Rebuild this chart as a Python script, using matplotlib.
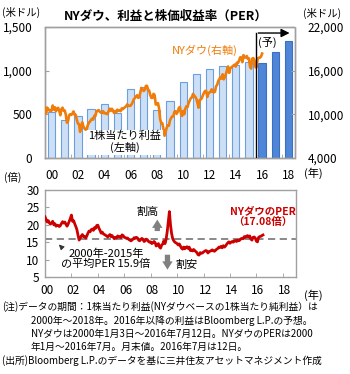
import matplotlib
matplotlib.use("Agg")
import matplotlib.pyplot as plt
import numpy as np

plt.rcParams['font.family'] = ['Noto Sans CJK JP', 'DejaVu Sans']

# ---- data ----
years = list(range(2000, 2019))
eps = [530, 440, 480, 560, 620, 515, 790, 810, 550, 650,
       870, 960, 1020, 1055, 1070, 1095, 1085, 1215, 1345]
forecast_from = 2016

# NY Dow, month-end levels Jan 2000 - Jul 2016
dow = [
    10940, 10128, 10922, 10734, 10522, 10448, 10522, 11215, 10651, 10971, 10415, 10787,
    10887, 10495, 9879, 10735, 10912, 10502, 10523, 9950, 8848, 9075, 9852, 10021,
    9920, 10106, 10404, 9946, 9925, 9243, 8737, 8664, 7592, 8397, 8896, 8342,
    8054, 7891, 7992, 8480, 8850, 8985, 9234, 9416, 9275, 9801, 9782, 10454,
    10488, 10584, 10358, 10226, 10188, 10435, 10140, 10174, 10080, 10027, 10428, 10783,
    10490, 10766, 10504, 10193, 10467, 10275, 10641, 10482, 10569, 10440, 10806, 10718,
    10865, 10993, 11109, 11367, 11168, 11150, 11186, 11381, 11679, 12081, 12222, 12463,
    12622, 12269, 12354, 13063, 13628, 13409, 13212, 13358, 13896, 13930, 13372, 13265,
    12650, 12266, 12263, 12820, 12638, 11350, 11378, 11544, 10851, 9325, 8829, 8776,
    8001, 7063, 7609, 8168, 8500, 8447, 9172, 9496, 9712, 9713, 10345, 10428,
    10067, 10325, 10857, 11009, 10137, 9774, 10466, 10015, 10788, 11118, 11006, 11578,
    11892, 12226, 12320, 12811, 12570, 12414, 12143, 11614, 10913, 11955, 12046, 12218,
    12633, 12952, 13212, 13214, 12393, 12880, 13009, 13091, 13437, 13096, 13026, 13104,
    13861, 14054, 14579, 14840, 15116, 14910, 15500, 14810, 15130, 15546, 16086, 16577,
    15699, 16322, 16458, 16581, 16717, 16827, 16563, 17098, 17043, 17391, 17828, 17823,
    17165, 18133, 17776, 17841, 18011, 17620, 17690, 16528, 16285, 17664, 17720, 17425,
    16466, 16517, 17685, 17774, 17787, 17930, 18347,
]

# NY Dow PER, month-end, Jan 2000 - Jul 2016
per = [
    22.3, 21.5, 20.8, 21.2, 20.5, 20.2, 20.6, 21.0, 20.0, 20.3, 19.6, 19.9,
    19.8, 19.5, 19.8, 20.4, 20.9, 20.5, 20.8, 20.2, 19.6, 20.2, 21.0, 21.8,
    22.8, 21.0, 21.2, 20.3, 19.5, 18.6, 17.0, 15.6, 16.2, 16.8, 17.2, 16.6,
    16.6, 16.2, 16.8, 17.6, 18.2, 18.0, 18.6, 18.8, 18.4, 19.2, 19.0, 19.8,
    19.9, 19.0, 18.4, 17.6, 17.9, 17.4, 17.2, 17.0, 16.8, 16.5, 16.9, 17.2,
    16.6, 16.9, 16.4, 16.0, 16.4, 16.2, 16.8, 16.5, 16.6, 16.3, 17.1, 16.9,
    16.4, 16.3, 16.1, 16.2, 15.8, 15.6, 15.4, 15.6, 15.9, 16.3, 16.1, 16.4,
    16.2, 15.6, 15.4, 15.8, 16.1, 15.8, 15.2, 15.4, 15.9, 15.7, 15.2, 15.0,
    15.1, 14.6, 14.8, 15.2, 14.9, 13.9, 14.2, 14.6, 13.6, 13.3, 14.2, 14.5,
    15.4, 14.6, 15.8, 18.0, 21.0, 23.8, 20.0, 17.5, 16.0, 15.4, 15.0, 14.8,
    14.6, 14.2, 14.5, 13.9, 13.3, 13.0, 13.6, 13.1, 13.5, 13.7, 13.2, 13.6,
    12.6, 12.8, 12.5, 12.9, 12.6, 12.3, 12.0, 11.4, 11.3, 12.0, 11.8, 11.9,
    12.2, 12.4, 12.6, 12.5, 11.9, 12.3, 12.4, 12.6, 12.8, 12.5, 12.4, 12.7,
    13.0, 13.2, 13.6, 13.5, 13.8, 13.4, 14.0, 13.6, 13.9, 14.4, 14.8, 15.1,
    14.7, 15.0, 15.2, 15.0, 15.3, 15.5, 15.2, 15.6, 15.4, 15.6, 16.0, 16.1,
    16.0, 16.6, 16.4, 16.7, 16.9, 16.5, 16.8, 15.9, 15.6, 16.4, 16.5, 16.2,
    15.3, 15.1, 16.4, 16.6, 16.7, 16.9, 17.08,
]
per_avg = 15.9
per_last = per[-1]

xlabels = ['00', '02', '04', '06', '08', '10', '12', '14', '16', '18']
eps_ticks = [0, 500, 1000, 1500]
dow_ticks = [4000, 10000, 16000, 22000]
per_ticks = [5, 10, 15, 20, 25, 30]

# ---- styling ----
spine_c = '#a0a0a0'
light_bar, light_edge = '#cddff4', '#6c9fe0'
dark_bar, dark_edge = '#4f86d8', '#3b6fc4'
orange = '#f07d0a'
red = '#cc0000'
tick_fs = 8.5

W, H = 350, 374
fig = plt.figure(figsize=(W / 100, H / 100), dpi=100)


def box(l, t, r, b):
    return [l / W, 1 - b / H, (r - l) / W, (b - t) / H]


def style_axes(ax):
    for s in ax.spines.values():
        s.set_color(spine_c)
        s.set_linestyle((0, (1.5, 1)))
        s.set_linewidth(1.0)


t_month = 2000 + np.arange(len(dow)) / 12.0
t_per = 2000 + np.arange(len(per)) / 12.0
even_years = list(range(2000, 2019, 2))

# ---- top panel: earnings bars + Dow line ----
ax1 = fig.add_axes(box(45, 27, 295, 158))
style_axes(ax1)
bx = np.array(years) + 0.5
colors = [dark_bar if y >= forecast_from else light_bar for y in years]
edges = [dark_edge if y >= forecast_from else light_edge for y in years]
ax1.bar(bx, eps, width=0.55, color=colors, edgecolor=edges, linewidth=0.8, zorder=2)
ax1.set_xlim(2000, 2019)
ax1.set_ylim(0, 1500)
ax1.set_yticks(eps_ticks)
ax1.set_yticklabels(['0', '500', '1,000', '1,500'])
ax1.set_xticks([y + 0.5 for y in even_years])
ax1.set_xticklabels(xlabels)
ax1.set_xticks(even_years[1:], minor=True)
ax1.tick_params(axis='x', which='major', length=0, pad=8, labelsize=tick_fs)
ax1.tick_params(axis='x', which='minor', length=3, direction='in', color=spine_c)
ax1.tick_params(axis='y', length=3, direction='in', color=spine_c, pad=9, labelsize=tick_fs)

ax1r = ax1.twinx()
style_axes(ax1r)
ax1r.plot(t_month, dow, color=orange, lw=1.9, zorder=3)
ax1r.set_ylim(4000, 22000)
ax1r.set_yticks(dow_ticks)
ax1r.set_yticklabels(['4,000', '10,000', '16,000', '22,000'])
ax1r.tick_params(axis='y', length=3, direction='in', color=spine_c, pad=9, labelsize=tick_fs)

# forecast marker
ax1r.plot([forecast_from, forecast_from], [4000, 4000 + 0.954 * 18000], color='black', lw=1.0, zorder=4)
ax1r.annotate('', xy=(2018.8, 0.954), xytext=(forecast_from, 0.954),
              xycoords=('data', 'axes fraction'), textcoords=('data', 'axes fraction'),
              arrowprops=dict(arrowstyle='-|>,head_length=0.5,head_width=0.25', color='black', lw=1.0))
ax1r.text(2016.9, 0.885, '(予)', transform=ax1r.get_xaxis_transform(),
          ha='center', va='center', fontsize=8)

ax1r.text(0.64, 0.824, 'NYダウ(右軸)', transform=ax1.transAxes, color=orange,
          ha='center', va='center', fontsize=8)
ax1r.text(0.32, 0.122, '1株当たり利益\n(左軸)', transform=ax1.transAxes,
          ha='center', va='center', fontsize=8, linespacing=1.1, zorder=6,
          bbox=dict(facecolor='white', edgecolor='none', pad=1))

fig.text(166 / W, 1 - 16 / H, 'NYダウ、利益と株価収益率（PER）', ha='center', va='center',
         fontsize=9, fontweight='bold')
fig.text(2 / W, 1 - 12 / H, '(米ドル)', ha='left', va='center', fontsize=7.5)
fig.text(303 / W, 1 - 13 / H, '(米ドル)', ha='left', va='center', fontsize=7.5)
fig.text(304 / W, 1 - 173 / H, '(年)', ha='left', va='center', fontsize=8)

# ---- bottom panel: PER ----
ax2 = fig.add_axes(box(45, 190, 296, 277))
style_axes(ax2)
ax2.plot(t_per, per, color=red, lw=2.0, zorder=3)
ax2.axhline(per_avg, color='#808080', lw=1.3, ls=(0, (4, 2.5)), zorder=2)
ax2.set_xlim(2000, 2019)
ax2.set_ylim(5, 30)
ax2.set_yticks(per_ticks)
ax2.set_xticks([y + 0.12 for y in even_years])
ax2.set_xticklabels(xlabels)
ax2.set_xticks(even_years[1:], minor=True)
ax2.tick_params(axis='x', which='major', length=0, pad=5, labelsize=tick_fs)
ax2.tick_params(axis='x', which='minor', length=3, direction='in', color=spine_c)
ax2.tick_params(axis='y', length=3, direction='in', color=spine_c, pad=4, labelsize=tick_fs)

arrow_style = 'simple,head_length=0.6,head_width=0.75,tail_width=0.38'
ax2.annotate('', xy=(2008.5, 22.3), xytext=(2008.5, 17.4),
             arrowprops=dict(arrowstyle=arrow_style, color='#808080', lw=0))
ax2.annotate('', xy=(2009.27, 6.3), xytext=(2009.27, 12.2),
             arrowprops=dict(arrowstyle=arrow_style, color='#808080', lw=0))
ax2.text(2007.75, 23.7, '割高', ha='center', va='center', fontsize=8)
ax2.text(2010.7, 8.4, '割安', ha='center', va='center', fontsize=8)
ax2.text(2004.6, 10.2, '2000年-2015年\nの平均PER 15.9倍', ha='center', va='center',
         fontsize=8, linespacing=1.05)
ax2.annotate('', xy=(2000.9, 14.9), xytext=(2001.4, 13.0),
             arrowprops=dict(arrowstyle='-|>,head_length=0.3,head_width=0.15', color='#333333', lw=0.7))
ax2.text(2016.5, 22.5, f'NYダウのPER\n（{per_last:.2f}倍）', ha='center', va='center',
         fontsize=7.5, color=red, fontweight='bold', linespacing=1.1)

fig.text(4 / W, 1 - 177 / H, '(倍)', ha='left', va='center', fontsize=7.5)
fig.text(304 / W, 1 - 295 / H, '(年)', ha='left', va='center', fontsize=8)

# ---- notes ----
notes = [
    (2, 307, '(注)データの期間：1株当たり利益(NYダウベースの1株当たり純利益）は'),
    (31, 321, '2000年～2018年。2016年以降の利益はBloomberg L.P.の予想。'),
    (31, 334, 'NYダウは2000年1月3日～2016年7月12日。NYダウのPERは2000'),
    (31, 347, '年1月～2016年7月。月末値。2016年7月は12日。'),
    (2, 361, '(出所)Bloomberg L.P.のデータを基に三井住友アセットマネジメント作成'),
]
for x, y, s in notes:
    fig.text(x / W, 1 - y / H, s, ha='left', va='center', fontsize=7.0)

fig.savefig('out.png', dpi=100)
